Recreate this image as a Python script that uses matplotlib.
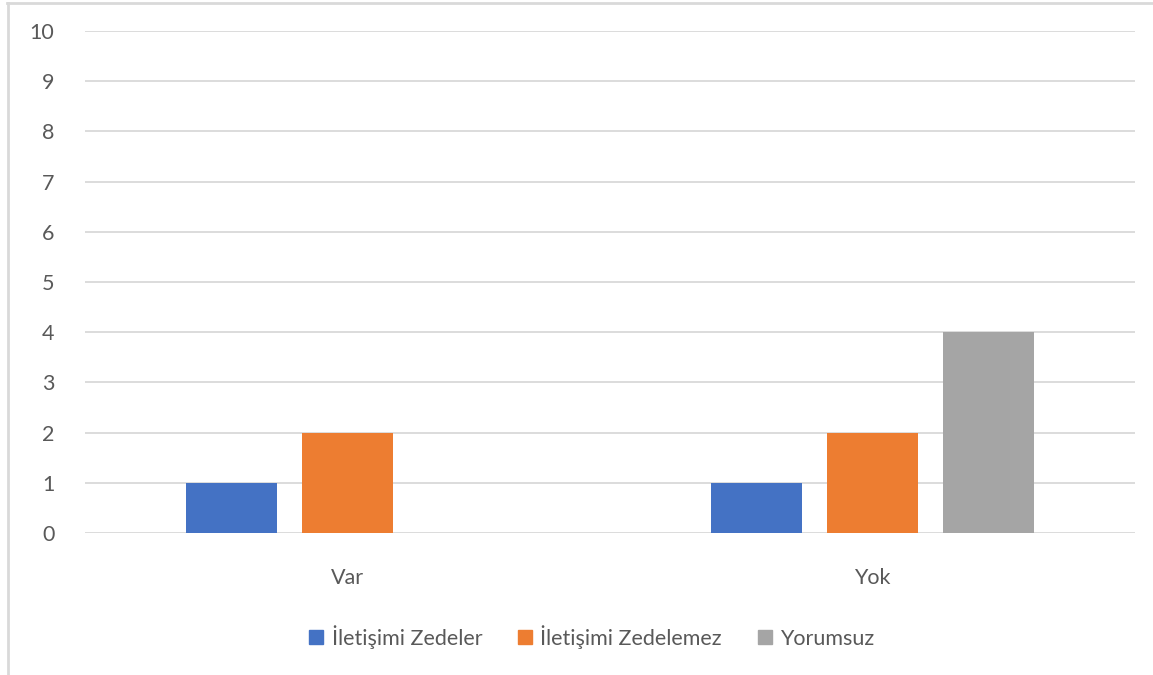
import matplotlib
matplotlib.use("Agg")
import matplotlib.pyplot as plt
from matplotlib.lines import Line2D
import numpy as np

categories = ["Var", "Yok"]
series_names = ["İletişimi Zedeler", "İletişimi Zedelemez", "Yorumsuz"]
zedeler = [1, 1]
zedelemez = [2, 2]
yorumsuz = [0, 4]
colors = ["#4472C4", "#ED7D31", "#A5A5A5"]

plt.rcParams["font.family"] = ["Lato", "DejaVu Sans"]
text_color = "#595959"

fig = plt.figure(figsize=(11.53, 6.75), dpi=100)
ax = fig.add_axes([85 / 1153, 1 - 533 / 675, 1050 / 1153, 502 / 675])

x = np.arange(len(categories))
offset = 0.221
width = 0.175
for i, (vals, name) in enumerate(zip([zedeler, zedelemez, yorumsuz], series_names)):
    ax.bar(x + (i - 1) * offset, vals, width=width, color=colors[i], label=name, zorder=3)

ax.set_xlim(-0.5, 1.5)
ax.set_ylim(0, 10)
ax.set_yticks(range(0, 11))
ax.grid(axis="y", color="#D9D9D9", linewidth=1.3, zorder=0)
for s in ax.spines.values():
    s.set_visible(False)
ax.tick_params(axis="both", length=0, colors=text_color, labelsize=15.5)
ax.tick_params(axis="y", pad=22)
ax.tick_params(axis="x", pad=25)
ax.set_xticks(x)
ax.set_xticklabels(categories)

handles = [Line2D([], [], marker="s", linestyle="none", markersize=10,
                  markerfacecolor=c, markeredgecolor=c) for c in colors]
fig.legend(handles, series_names, loc="center", bbox_to_anchor=(590 / 1153, 1 - 637 / 675),
           ncol=3, frameon=False, fontsize=15.5, labelcolor=text_color,
           handletextpad=0.2, columnspacing=1.5, handlelength=1.0)

# outer frame lines
fig.add_artist(Line2D([7 / 1153, 1], [1 - 3 / 675, 1 - 3 / 675], color="#D9D9D9", linewidth=2,
                      transform=fig.transFigure))
fig.add_artist(Line2D([7.5 / 1153, 7.5 / 1153], [0, 1 - 3 / 675], color="#D9D9D9", linewidth=2,
                      transform=fig.transFigure))

fig.savefig("out.png", dpi=100)
